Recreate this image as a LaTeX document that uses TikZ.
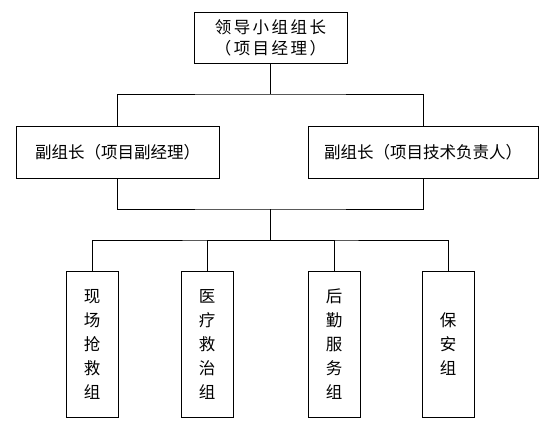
\documentclass[tikz,border=0pt]{standalone}
\usepackage{fontspec}
\setmainfont{Noto Sans CJK SC}
\usetikzlibrary{positioning}

\begin{document}
\begin{tikzpicture}[x=1pt, y=-1pt, line width=0.7pt,
        box/.style = {draw, inner sep=0pt, align=center, font=\fontsize{16.5}{21}\selectfont},
        group/.style = {box, minimum width=52pt, minimum height=146pt, font=\fontsize{16.5}{24}\selectfont}]
    \useasboundingbox (0,0) rectangle (549,421);
    % leadership
    \node[box, minimum width=153pt, minimum height=51pt, font=\fontsize{16.5}{21}\selectfont\addfontfeature{LetterSpace=15}] (lead) at (270.5,37.5) {领导小组组长\\（项目经理）};
    \node[box, minimum width=203pt, minimum height=52pt] (vicea) at (117.5,152) {副组长（项目副经理）};
    \node[box, minimum width=230pt, minimum height=52pt] (viceb) at (423,152) {副组长（项目技术负责人）};
    % working groups
    \node[group] (rescue) at (92,344) {现\\场\\抢\\救\\组};
    \node[group] (medic) at (207,344) {医\\疗\\救\\治\\组};
    \node[group] (supply) at (334,344) {后\\勤\\服\\务\\组};
    \node[group] (guard) at (448,344) {保\\安\\组};
    \coordinate (ja) at (270.5,94);
    \coordinate (jb) at (270.5,209);
    \coordinate (jc) at (270.5,240);
    \draw (lead) -- (ja);
    \draw (vicea.north) |- (ja) -| (viceb.north);
    \draw (vicea.south) |- (jb) -| (viceb.south);
    \draw (jb) -- (jc);
    \draw (rescue.north) |- (jc) -| (guard.north);
    \draw (medic.north) |- (jc);
    \draw (supply.north) |- (jc);
\end{tikzpicture}
\end{document}
